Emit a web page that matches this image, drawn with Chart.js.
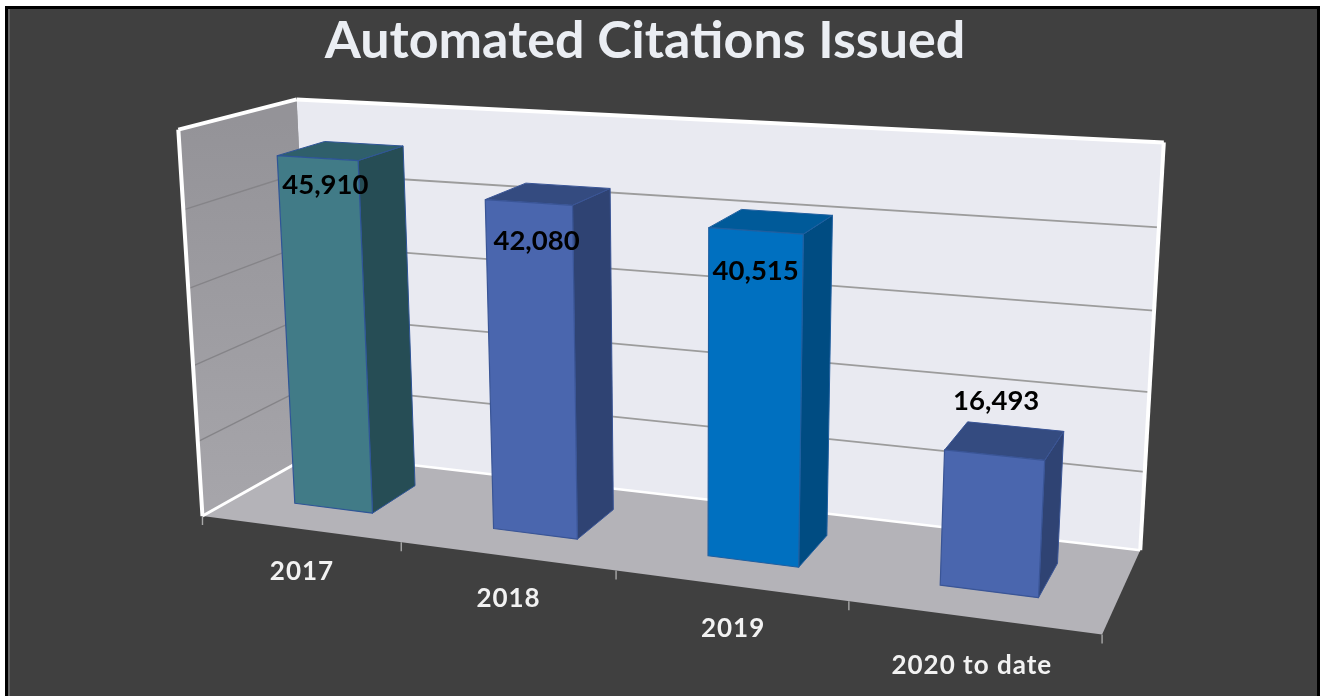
<!DOCTYPE html>
<html><head><meta charset="utf-8">
<style>html,body{margin:0;padding:0;background:#fff}canvas{display:block}</style>
<script src="https://cdn.jsdelivr.net/npm/chart.js@4/dist/chart.umd.min.js"></script>
</head><body><canvas id="c" width="1320" height="696"></canvas>
<script>
const categories = ['2017','2018','2019','2020 to date'];
const citations = [45910,42080,40515,16493];
const frontColors = ['#417B87','#4A66AE','#0070C0','#4A66AE'];
const sideColors = ['#264D55','#2F4373','#004C82','#2F4373'];
const topColors = ['#2F5F6B','#344B80','#005A99','#344B80'];
const edgeColors = ['#2F5597','#3A5596','#1F5FA0','#3A5596'];
const titleText = 'Automated Citations Issued';
const axisMax = 50000, axisStep = 10000;
// depth of the bars in the box
const depthFront = 0.3, depthBack = 0.72;
// label placement relative to the projected anchor
const valueNudge = [[8,27],[8,39],[0,40],[2,-54]];
const tickNudge = [[2,43],[2,43],[3,43],[-1,48]];
// camera calibration: box position (u,v,w) -> page pixel
const camera = [
 [0,0,0,203,516],[1,0,0,1102,635],[0,1,0,178,129],[0,0,1,313,453],
 [1,0,1,1140,550],[0,1,1,297,100],[1,1,1,1165,142],
 [.25,0,0,401,543],[.5,0,0,617,571],[.75,0,0,848,600],
 [1,.2,1,1146,472],[1,.8,1,1157,228]
];
function solve(A,b){const n=b.length;const M=A.map((r,i)=>[...r,b[i]]);
 for(let i=0;i<n;i++){let p=i;for(let k=i+1;k<n;k++)if(Math.abs(M[k][i])>Math.abs(M[p][i]))p=k;
  [M[i],M[p]]=[M[p],M[i]];
  for(let k=i+1;k<n;k++){const f=M[k][i]/M[i][i];for(let j=i;j<=n;j++)M[k][j]-=f*M[i][j];}}
 const x=new Array(n).fill(0);
 for(let i=n-1;i>=0;i--){let s=M[i][n];for(let j=i+1;j<n;j++)s-=M[i][j]*x[j];x[i]=s/M[i][i];}
 return x;}
function fit(){const R=[],Y=[];
 for(const [u,v,w,x0,y0] of camera){const x=x0/1000,y=y0/1000;
  R.push([u,v,w,1,0,0,0,0,-x*u,-x*v,-x*w]);Y.push(x);
  R.push([0,0,0,0,u,v,w,1,-y*u,-y*v,-y*w]);Y.push(y);}
 const n=11,A=[...Array(n)].map(()=>new Array(n).fill(0)),b=new Array(n).fill(0);
 R.forEach((r,k)=>{for(let i=0;i<n;i++){b[i]+=r[i]*Y[k];for(let j=0;j<n;j++)A[i][j]+=r[i]*r[j];}});
 return solve(A,b);}
const P=fit();
function pr(u,v,w){const d=P[8]*u+P[9]*v+P[10]*w+1;
 return [1000*(P[0]*u+P[1]*v+P[2]*w+P[3])/d,1000*(P[4]*u+P[5]*v+P[6]*w+P[7])/d];}
function poly(ctx,pts,fill,stroke,lw){ctx.beginPath();pts.forEach((p,i)=>i?ctx.lineTo(p[0],p[1]):ctx.moveTo(p[0],p[1]));ctx.closePath();
 if(fill){ctx.fillStyle=fill;ctx.fill();}
 if(stroke){ctx.strokeStyle=stroke;ctx.lineWidth=lw||1;ctx.lineJoin='round';ctx.stroke();}}
function line(ctx,a,b,c,lw){ctx.beginPath();ctx.moveTo(a[0],a[1]);ctx.lineTo(b[0],b[1]);ctx.strokeStyle=c;ctx.lineWidth=lw;ctx.lineCap='butt';ctx.stroke();}

const box3d={id:'box3d',
 beforeDraw(ch){const c=ch.ctx;
  c.save();c.fillStyle='#fff';c.fillRect(0,0,1320,696);
  c.fillStyle='#000';c.fillRect(5,6,1315,690);
  c.fillStyle='#404040';c.fillRect(8,9,1309,687);
  c.fillStyle='#636363';c.fillRect(8,9,2,687);
  c.restore();},
 beforeDatasetsDraw(ch){const c=ch.ctx,ys=ch.scales.y,a=ch.chartArea;
  c.save();
  const grad=c.createLinearGradient(0,120,0,500);grad.addColorStop(0,'#949398');grad.addColorStop(1,'#A6A5AA');
  poly(c,[pr(0,0,0),pr(0,1,0),pr(0,1,1),pr(0,0,1)],grad);
  poly(c,[pr(0,0,1),pr(0,1,1),pr(1,1,1),pr(1,0,1)],'#E9EAF1');
  poly(c,[pr(0,0,0),pr(1,0,0),pr(1,0,1),pr(0,0,1)],'#B4B3B8');
  ys.ticks.forEach(t=>{if(t.value<=0||t.value>=axisMax)return;
   const v=(a.bottom-ys.getPixelForValue(t.value))/(a.bottom-a.top);
   line(c,pr(0,v,0),pr(0,v,1),'#858488',1.4);
   line(c,pr(0,v,1),pr(1,v,1),'#9C9C9C',1.8);});
  const W='#FFFFFF';
  line(c,pr(0,0,0),pr(0,1,0),W,4);line(c,pr(0,1,0),pr(0,1,1),W,4);
  line(c,pr(0,1,1),pr(1,1,1),W,4);line(c,pr(1,1,1),pr(1,0,1),W,4);
  line(c,pr(0,0,0),pr(0,0,1),W,3);line(c,pr(0,0,1),pr(1,0,1),W,2.5);
  const n=categories.length;
  for(let i=0;i<=n;i++){const p=pr(i/n,0,0);line(c,p,[p[0],p[1]+9],'#A8A8A8',1.4);}
  c.restore();},
 beforeDatasetDraw(){return false;},
 afterDatasetsDraw(ch){const c=ch.ctx,a=ch.chartArea,m=ch.getDatasetMeta(0),W=a.right-a.left,H=a.bottom-a.top;
  c.save();
  const anchors=[];
  m.data.forEach((el,i)=>{
   const u0=(el.x-el.width/2-a.left)/W,u1=(el.x+el.width/2-a.left)/W,v=(a.bottom-el.y)/H;
   const f=depthFront,b=depthBack,e=edgeColors[i];
   poly(c,[pr(u1,0,f),pr(u1,v,f),pr(u1,v,b),pr(u1,0,b)],sideColors[i],e,1);
   poly(c,[pr(u0,v,f),pr(u1,v,f),pr(u1,v,b),pr(u0,v,b)],topColors[i],e,1);
   poly(c,[pr(u0,0,f),pr(u1,0,f),pr(u1,v,f),pr(u0,v,f)],frontColors[i],e,1.2);
   anchors.push(pr((u0+u1)/2,v,f));
  });
  c.textAlign='center';c.textBaseline='middle';
  c.font='700 27.5px Lato';c.fillStyle='#000';
  m.data.forEach((el,i)=>{const p=anchors[i],d=valueNudge[i];
   c.fillText(citations[i].toLocaleString('en-US'),p[0]+d[0],p[1]+d[1]);});
  c.font='700 26px Lato';c.fillStyle='#F2F2F2';
  if('letterSpacing' in c)c.letterSpacing='1px';
  categories.forEach((lab,i)=>{const p=pr((i+.5)/categories.length,0,0),d=tickNudge[i];
   c.fillText(ch.scales.x.getLabelForValue(i),p[0]+d[0],p[1]+d[1]);});
  c.restore();}
};

new Chart(document.getElementById('c'),{
 type:'bar',
 data:{labels:categories,datasets:[{data:citations,backgroundColor:frontColors,barPercentage:.4,categoryPercentage:1}]},
 plugins:[box3d],
 options:{responsive:false,animation:false,devicePixelRatio:1,
  layout:{padding:{right:30,top:5}},
  plugins:{legend:{display:false},tooltip:{enabled:false},
   title:{display:true,text:titleText,color:'#EBEEF3',font:{family:'Lato',weight:'700',size:52},padding:{top:5,bottom:10}}},
  scales:{x:{display:false},y:{display:false,min:0,max:axisMax,ticks:{stepSize:axisStep}}}}
});
</script></body></html>
